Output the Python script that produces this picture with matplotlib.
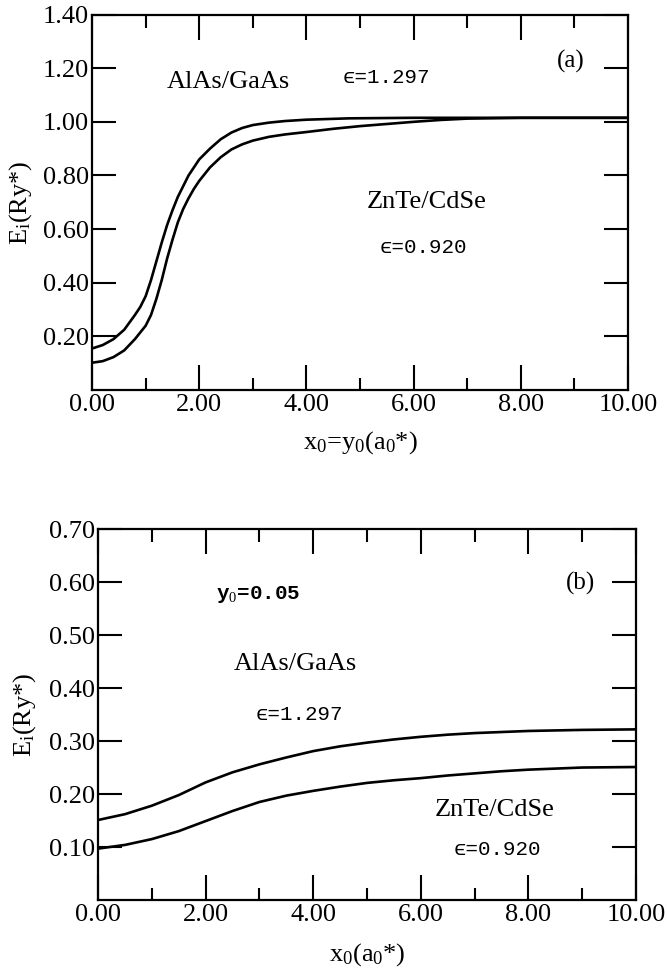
import numpy as np
import matplotlib
matplotlib.use("Agg")
import matplotlib.pyplot as plt
from matplotlib.ticker import MultipleLocator

# panel (a): x0 = y0 dependence, AlAs/GaAs (upper) and ZnTe/CdSe (lower)
xa_upper = [0.0, 0.2, 0.4, 0.6, 0.8, 0.9, 1.0, 1.1, 1.2, 1.3, 1.4, 1.5, 1.6, 1.7, 1.8,
            1.9, 2.0, 2.2, 2.4, 2.6, 2.8, 3.0, 3.3, 3.6, 4.0, 4.8, 6.0, 10.0]
ya_upper = [0.155, 0.168, 0.19, 0.225, 0.28, 0.31, 0.35, 0.41, 0.48, 0.55, 0.615, 0.67,
            0.72, 0.76, 0.80, 0.83, 0.86, 0.90, 0.935, 0.96, 0.977, 0.988, 0.997, 1.003,
            1.008, 1.013, 1.015, 1.015]
xa_lower = [0.0, 0.2, 0.4, 0.6, 0.8, 0.9, 1.0, 1.1, 1.2, 1.3, 1.4, 1.5, 1.6, 1.7, 1.8,
            1.9, 2.0, 2.2, 2.4, 2.6, 2.8, 3.0, 3.3, 3.6, 4.0, 4.5, 5.0, 5.5, 6.0, 6.5,
            7.0, 8.0, 10.0]
ya_lower = [0.102, 0.108, 0.123, 0.148, 0.19, 0.215, 0.24, 0.28, 0.34, 0.41, 0.49, 0.56,
            0.625, 0.675, 0.715, 0.75, 0.78, 0.83, 0.868, 0.897, 0.916, 0.93, 0.944,
            0.953, 0.962, 0.974, 0.984, 0.992, 1.0, 1.007, 1.012, 1.015, 1.015]

# panel (b): y0 = 0.05
xb = [0.0, 0.5, 1.0, 1.5, 2.0, 2.5, 3.0, 3.5, 4.0, 4.5, 5.0, 5.5, 6.0, 6.5, 7.0, 7.5,
      8.0, 8.5, 9.0, 10.0]
yb_upper = [0.151, 0.162, 0.178, 0.198, 0.222, 0.241, 0.256, 0.269, 0.281, 0.290, 0.297,
            0.303, 0.308, 0.312, 0.315, 0.317, 0.319, 0.320, 0.321, 0.322]
yb_lower = [0.097, 0.104, 0.115, 0.130, 0.149, 0.168, 0.185, 0.197, 0.206, 0.214, 0.221,
            0.226, 0.230, 0.235, 0.239, 0.243, 0.246, 0.248, 0.250, 0.251]

xticks = [0, 2, 4, 6, 8, 10]
yticks_a = [0.2, 0.4, 0.6, 0.8, 1.0, 1.2, 1.4]
yticks_b = [0.1, 0.2, 0.3, 0.4, 0.5, 0.6, 0.7]

plt.rcParams['font.family'] = ['Liberation Serif', 'DejaVu Serif']
plt.rcParams['mathtext.fontset'] = 'custom'
plt.rcParams['mathtext.rm'] = 'Liberation Serif'
plt.rcParams['mathtext.it'] = 'Liberation Serif:italic'

mono = ['Liberation Mono', 'DejaVu Sans Mono']
line_kw = dict(color='black', lw=1.9, solid_joinstyle='round', solid_capstyle='round')

fig = plt.figure(figsize=(6.67, 9.68), dpi=100)
ax1 = fig.add_axes([0.138, 0.597, 0.8036, 0.388])
ax2 = fig.add_axes([0.147, 0.0702, 0.8066, 0.3833])


def style_axes(ax, ymax, yticks):
    ax.set_xlim(0, 10)
    ax.set_ylim(0, ymax)
    ax.set_xticks(xticks)
    ax.set_xticklabels([f"{v:.2f}" for v in xticks])
    ax.set_yticks(yticks)
    ax.set_yticklabels([f"{v:.2f}" for v in yticks])
    ax.xaxis.set_minor_locator(MultipleLocator(1))
    ax.tick_params(which='both', direction='in', top=True, right=True, width=1.5,
                   labelsize=19)
    ax.tick_params(axis='x', which='major', length=18, pad=3)
    ax.tick_params(axis='x', which='minor', length=9)
    ax.tick_params(axis='y', which='major', length=17, pad=2)
    for s in ax.spines.values():
        s.set_linewidth(1.6)


# panel (a)
ax1.plot(xa_upper, ya_upper, **line_kw)
ax1.plot(xa_lower, ya_lower, **line_kw)
style_axes(ax1, 1.4, yticks_a)
ax1.set_ylabel(r'E$_\mathrm{i}$(Ry*)', fontsize=19, va='center')
ax1.yaxis.set_label_coords(-0.134, 0.5)
ax1.set_xlabel(r'x$_0$=y$_0$(a$_0$*)', fontsize=19, va='center')
ax1.xaxis.set_label_coords(0.5, -0.141)
ax1.text(2.54, 1.15, 'AlAs/GaAs', fontsize=19, ha='center', va='center')
ax1.text(5.5, 1.164, 'ϵ=1.297', fontsize=15, family=mono, ha='center', va='center')
ax1.text(8.93, 1.225, '(a)', fontsize=18, ha='center', va='center')
ax1.text(6.25, 0.70, 'ZnTe/CdSe', fontsize=19, ha='center', va='center')
ax1.text(6.19, 0.533, 'ϵ=0.920', fontsize=15, family=mono, ha='center', va='center')

# panel (b)
ax2.plot(xb, yb_upper, **line_kw)
ax2.plot(xb, yb_lower, **line_kw)
style_axes(ax2, 0.7, yticks_b)
ax2.set_ylabel(r'E$_\mathrm{i}$(Ry*)', fontsize=19, va='center')
ax2.yaxis.set_label_coords(-0.136, 0.5)
ax2.set_xlabel(r'x$_0$(a$_0$*)', fontsize=19, va='center')
ax2.xaxis.set_label_coords(0.5, -0.148)
ax2.text(8.96, 0.598, '(b)', fontsize=18, ha='center', va='center')
ax2.text(2.97, 0.576, r'y$_0$=0.05', fontsize=15, family=mono, weight='bold',
         ha='center', va='center')
ax2.text(3.67, 0.446, 'AlAs/GaAs', fontsize=19, ha='center', va='center')
ax2.text(3.75, 0.35, 'ϵ=1.297', fontsize=15, family=mono, ha='center', va='center')
ax2.text(7.37, 0.17, 'ZnTe/CdSe', fontsize=19, ha='center', va='center')
ax2.text(7.43, 0.096, 'ϵ=0.920', fontsize=15, family=mono, ha='center', va='center')

fig.savefig('out.png', dpi=100)
